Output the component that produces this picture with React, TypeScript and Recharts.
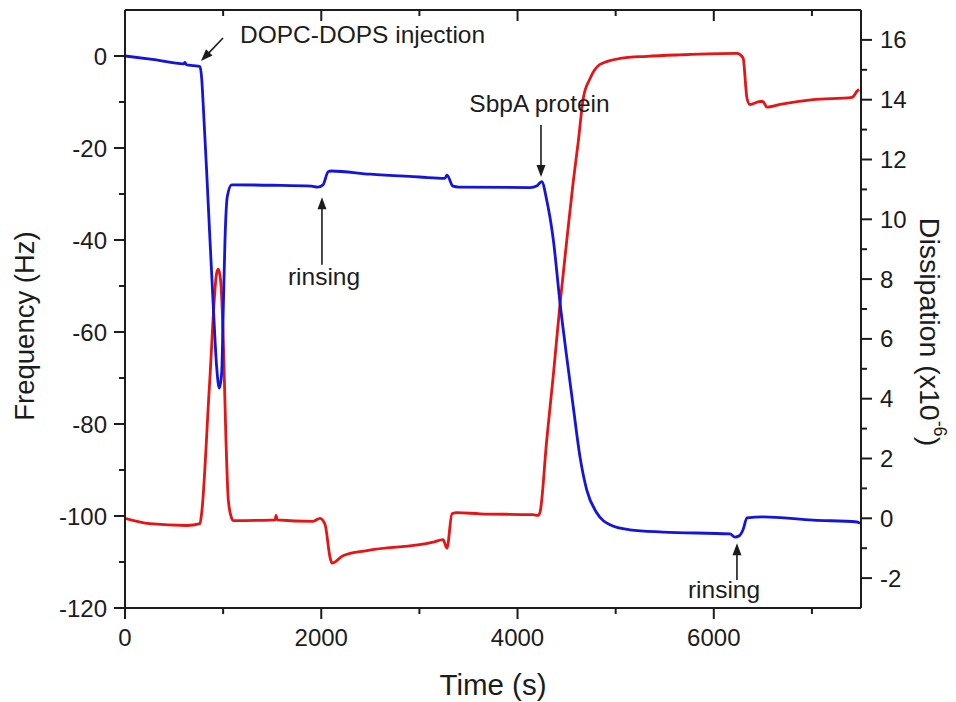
import React from 'react';
import { ComposedChart, Line, XAxis, YAxis, ReferenceLine, ReferenceDot } from 'recharts';

const FONT = '"Liberation Sans", Arial, Helvetica, sans-serif';
const INK = '#1c1c1c';
const BLUE = '#1414dc';
const RED = '#e61414';

// Frequency (Hz) vs time (s) – blue trace, left axis
const frequencyData = [
  { t: 0, f: 0 }, { t: 300, f: -0.8 }, { t: 600, f: -1.7 }, { t: 611, f: -1.4 }, { t: 625, f: -1.9 },
  { t: 700, f: -2.1 }, { t: 764, f: -2.3 }, { t: 782, f: -5 }, { t: 798, f: -11 }, { t: 833, f: -25.5 },
  { t: 866, f: -40 }, { t: 900, f: -54.5 }, { t: 934, f: -67.6 }, { t: 961, f: -72.2 }, { t: 985, f: -69 },
  { t: 1002, f: -54.5 }, { t: 1019, f: -40 }, { t: 1042, f: -30.6 }, { t: 1087, f: -28 }, { t: 1500, f: -28.1 },
  { t: 1900, f: -28.3 }, { t: 1960, f: -28.5 }, { t: 2018, f: -28 }, { t: 2069, f: -25.2 }, { t: 2100, f: -25 },
  { t: 2500, f: -25.7 }, { t: 3000, f: -26.3 }, { t: 3260, f: -26.6 }, { t: 3281, f: -25.9 }, { t: 3342, f: -28.3 },
  { t: 3400, f: -28.5 }, { t: 4127, f: -28.6 }, { t: 4200, f: -28.2 }, { t: 4246, f: -27.3 }, { t: 4297, f: -31.3 },
  { t: 4365, f: -40 }, { t: 4433, f: -53.7 }, { t: 4501, f: -65.4 }, { t: 4568, f: -76.3 }, { t: 4637, f: -87.2 },
  { t: 4705, f: -94.3 }, { t: 4807, f: -99.3 }, { t: 4942, f: -101.9 }, { t: 5146, f: -103 }, { t: 5482, f: -103.5 },
  { t: 6165, f: -103.9 }, { t: 6216, f: -104.6 }, { t: 6260, f: -104.3 }, { t: 6298, f: -103 }, { t: 6338, f: -100.4 },
  { t: 6501, f: -100.2 }, { t: 7011, f: -100.9 }, { t: 7459, f: -101.3 }, { t: 7490, f: -101.6 },
];

// Dissipation (x10^-6) vs time (s) – red trace, right axis
const dissipationData = [
  { t: 0, d: 0 }, { t: 250, d: -0.18 }, { t: 630, d: -0.24 }, { t: 764, d: -0.18 }, { t: 782, d: 0.2 },
  { t: 860, d: 4.4 }, { t: 934, d: 8.2 }, { t: 951, d: 8.33 },
  { t: 975, d: 7.94 }, { t: 1002, d: 5.93 }, { t: 1029, d: 2.6 }, { t: 1053, d: 0.6 }, { t: 1087, d: 0 },
  { t: 1101, d: -0.08 }, { t: 1530, d: -0.05 }, { t: 1539, d: 0.1 }, { t: 1550, d: -0.05 }, { t: 1916, d: -0.1 },
  { t: 1987, d: 0 }, { t: 2038, d: -0.2 }, { t: 2089, d: -1.3 }, { t: 2109, d: -1.5 }, { t: 2222, d: -1.25 },
  { t: 2466, d: -1.08 }, { t: 3139, d: -0.8 }, { t: 3241, d: -0.71 }, { t: 3281, d: -1.0 }, { t: 3332, d: 0.15 },
  { t: 3383, d: 0.19 }, { t: 3618, d: 0.15 }, { t: 4158, d: 0.12 }, { t: 4209, d: 0.1 }, { t: 4229, d: 0.2 },
  { t: 4297, d: 2.6 }, { t: 4365, d: 4.8 }, { t: 4433, d: 7.16 }, { t: 4501, d: 9.27 }, { t: 4568, d: 11.27 },
  { t: 4619, d: 12.6 }, { t: 4670, d: 14.05 }, { t: 4738, d: 14.7 }, { t: 4840, d: 15.18 }, { t: 5044, d: 15.38 },
  { t: 5319, d: 15.45 }, { t: 5656, d: 15.5 }, { t: 6236, d: 15.55 }, { t: 6298, d: 15.4 }, { t: 6338, d: 14.05 },
  { t: 6369, d: 13.84 }, { t: 6471, d: 13.94 }, { t: 6500, d: 13.94 }, { t: 6542, d: 13.75 }, { t: 6675, d: 13.84 },
  { t: 7011, d: 14.0 }, { t: 7408, d: 14.08 }, { t: 7459, d: 14.28 }, { t: 7480, d: 14.35 },
];

// Axis ticks
const xMajorTicks = [0, 2000, 4000, 6000];
const xMinorTicks = [1000, 3000, 5000, 7000];
const freqMajorTicks = [-120, -100, -80, -60, -40, -20, 0];
const freqMinorTicks = [-110, -90, -70, -50, -30, -10];
const dissMajorTicks = [-2, 0, 2, 4, 6, 8, 10, 12, 14, 16];
const dissMinorTicks = [-1, 1, 3, 5, 7, 9, 11, 13, 15];

// Annotations (in time / frequency coordinates)
const annotationTexts = ['DOPC-DOPS injection', 'SbpA protein', 'rinsing', 'rinsing'];
const annotationAnchors = ['start', 'middle', 'middle', 'middle'];
const annotationTextT = [1172, 4224, 2028, 6104];
const annotationTextF = [2.8, -12.2, -49.8, -117.8];
const arrowTailT = [999, 4239, 2007, 6236];
const arrowTailF = [3.9, -15.0, -45.4, -113.9];
const arrowTipT = [774, 4239, 2007, 6236];
const arrowTipF = [-1.1, -26.3, -30.7, -105.9];

const MAJOR = 11;
const MINOR = 6;
const TICK_FS = 24;

const BottomTick = (props: any) => {
  const { x, y, payload } = props;
  const v = payload.value;
  const major = xMajorTicks.includes(v);
  return (
    <g>
      <line x1={x} y1={y} x2={x} y2={y + (major ? MAJOR : MINOR)} stroke={INK} strokeWidth={2} />
      {major && (
        <text x={x} y={y + 38} textAnchor="middle" fontFamily={FONT} fontSize={TICK_FS} fill={INK}>
          {v}
        </text>
      )}
    </g>
  );
};

const TopTick = (props: any) => {
  const { x, y, payload } = props;
  const major = xMajorTicks.includes(payload.value);
  return <line x1={x} y1={y} x2={x} y2={y + (major ? MAJOR : MINOR)} stroke={INK} strokeWidth={2} />;
};

const LeftTick = (props: any) => {
  const { x, y, payload } = props;
  const v = payload.value;
  const major = freqMajorTicks.includes(v);
  return (
    <g>
      <line x1={x} y1={y} x2={x - (major ? MAJOR : MINOR)} y2={y} stroke={INK} strokeWidth={2} />
      {major && (
        <text x={x - 18} y={y + 8.5} textAnchor="end" fontFamily={FONT} fontSize={TICK_FS} fill={INK}>
          {v}
        </text>
      )}
    </g>
  );
};

const RightTick = (props: any) => {
  const { x, y, payload } = props;
  const v = payload.value;
  const major = dissMajorTicks.includes(v);
  return (
    <g>
      <line x1={x} y1={y} x2={x + (major ? MAJOR : MINOR)} y2={y} stroke={INK} strokeWidth={2} />
      {major && (
        <text x={x + 19} y={y + 8.5} textAnchor="start" fontFamily={FONT} fontSize={TICK_FS} fill={INK}>
          {v}
        </text>
      )}
    </g>
  );
};

const leftTitle = (props: any) => {
  const vb = props.viewBox || { x: 0, y: 10, width: 125, height: 598 };
  const cx = vb.x + 24;
  const cy = vb.y + vb.height / 2 + 17;
  return (
    <text x={cx} y={cy} transform={`rotate(-90 ${cx} ${cy})`} textAnchor="middle" dominantBaseline="central"
      fontFamily={FONT} fontSize={27.5} fill={INK}>
      Frequency (Hz)
    </text>
  );
};

const rightTitle = (props: any) => {
  const vb = props.viewBox || { x: 861, y: 10, width: 95, height: 598 };
  const cx = vb.x + 69;
  const cy = vb.y + vb.height / 2 + 23;
  return (
    <text x={cx} y={cy} transform={`rotate(90 ${cx} ${cy})`} textAnchor="middle" dominantBaseline="central"
      fontFamily={FONT} fontSize={28.5} fill={INK}>
      Dissipation (x10
      <tspan dy={-10} fontSize={18}>-6</tspan>
      <tspan dy={10}>)</tspan>
    </text>
  );
};

const bottomTitle = (props: any) => {
  const vb = props.viewBox || { x: 125, y: 608, width: 736, height: 94 };
  return (
    <text x={vb.x + vb.width / 2} y={vb.y + 87} textAnchor="middle" fontFamily={FONT} fontSize={29.5} fill={INK}>
      Time (s)
    </text>
  );
};

const ArrowShape = (props: any) => {
  const { x1, y1, x2, y2 } = props;
  const dx = x2 - x1;
  const dy = y2 - y1;
  const len = Math.hypot(dx, dy) || 1;
  const ux = dx / len;
  const uy = dy / len;
  const L = 12;
  const W = 4.5;
  const bx = x2 - ux * L;
  const by = y2 - uy * L;
  return (
    <g>
      <line x1={x1} y1={y1} x2={bx + ux * 2} y2={by + uy * 2} stroke={INK} strokeWidth={1.6} />
      <polygon points={`${x2},${y2} ${bx - uy * W},${by + ux * W} ${bx + uy * W},${by - ux * W}`} fill={INK} />
    </g>
  );
};

const makeTextLabel = (text: string, anchor: string) => (props: any) => {
  const vb = props.viewBox;
  return (
    <text x={vb.x} y={vb.y} textAnchor={anchor as any} fontFamily={FONT} fontSize={24.5} fill={INK}>
      {text}
    </text>
  );
};

export default function App() {
  const allX = [...xMajorTicks, ...xMinorTicks].sort((a, b) => a - b);
  const topX = allX.filter((v) => v > 0);
  const allF = [...freqMajorTicks, ...freqMinorTicks].sort((a, b) => a - b);
  const allD = [...dissMajorTicks, ...dissMinorTicks].sort((a, b) => a - b);

  return (
    <div style={{ position: 'absolute', left: 0, top: 0, width: 956, height: 702, background: '#fff' }}>
      <ComposedChart width={956} height={702} margin={{ top: 10, right: 0, bottom: 0, left: 0 }}>
        <XAxis
          xAxisId="b"
          type="number"
          dataKey="t"
          domain={[0, 7500]}
          allowDataOverflow
          ticks={allX}
          interval={0}
          tick={BottomTick}
          tickLine={false}
          tickSize={0}
          tickMargin={0}
          height={94}
          axisLine={{ stroke: INK, strokeWidth: 2 }}
          label={bottomTitle}
        />
        <XAxis
          xAxisId="top"
          orientation="top"
          mirror
          type="number"
          dataKey="t"
          domain={[0, 7500]}
          allowDataOverflow
          ticks={topX}
          interval={0}
          tick={TopTick}
          tickLine={false}
          tickSize={0}
          tickMargin={0}
          axisLine={{ stroke: INK, strokeWidth: 2 }}
        />
        <YAxis
          yAxisId="f"
          orientation="left"
          type="number"
          domain={[-120, 10]}
          allowDataOverflow
          ticks={allF}
          interval={0}
          tick={LeftTick}
          tickLine={false}
          tickSize={0}
          tickMargin={0}
          width={125}
          axisLine={{ stroke: INK, strokeWidth: 2 }}
          label={leftTitle}
        />
        <YAxis
          yAxisId="d"
          orientation="right"
          type="number"
          domain={[-3, 17]}
          allowDataOverflow
          ticks={allD}
          interval={0}
          tick={RightTick}
          tickLine={false}
          tickSize={0}
          tickMargin={0}
          width={95}
          axisLine={{ stroke: INK, strokeWidth: 2 }}
          label={rightTitle}
        />
        <Line
          data={dissipationData}
          xAxisId="b"
          yAxisId="d"
          dataKey="d"
          type="monotone"
          stroke={RED}
          strokeWidth={2.8}
          dot={false}
          activeDot={false}
          isAnimationActive={false}
        />
        <Line
          data={frequencyData}
          xAxisId="b"
          yAxisId="f"
          dataKey="f"
          type="monotone"
          stroke={BLUE}
          strokeWidth={2.8}
          dot={false}
          activeDot={false}
          isAnimationActive={false}
        />
        {annotationTexts.map((txt, i) => (
          <ReferenceLine
            key={`arrow-${i}`}
            xAxisId="b"
            yAxisId="f"
            ifOverflow="visible"
            segment={[
              { x: arrowTailT[i], y: arrowTailF[i] },
              { x: arrowTipT[i], y: arrowTipF[i] },
            ]}
            shape={ArrowShape}
          />
        ))}
        {annotationTexts.map((txt, i) => (
          <ReferenceDot
            key={`text-${i}`}
            xAxisId="b"
            yAxisId="f"
            x={annotationTextT[i]}
            y={annotationTextF[i]}
            r={0}
            fill="none"
            stroke="none"
            ifOverflow="visible"
            label={makeTextLabel(txt, annotationAnchors[i])}
          />
        ))}
      </ComposedChart>
    </div>
  );
}
